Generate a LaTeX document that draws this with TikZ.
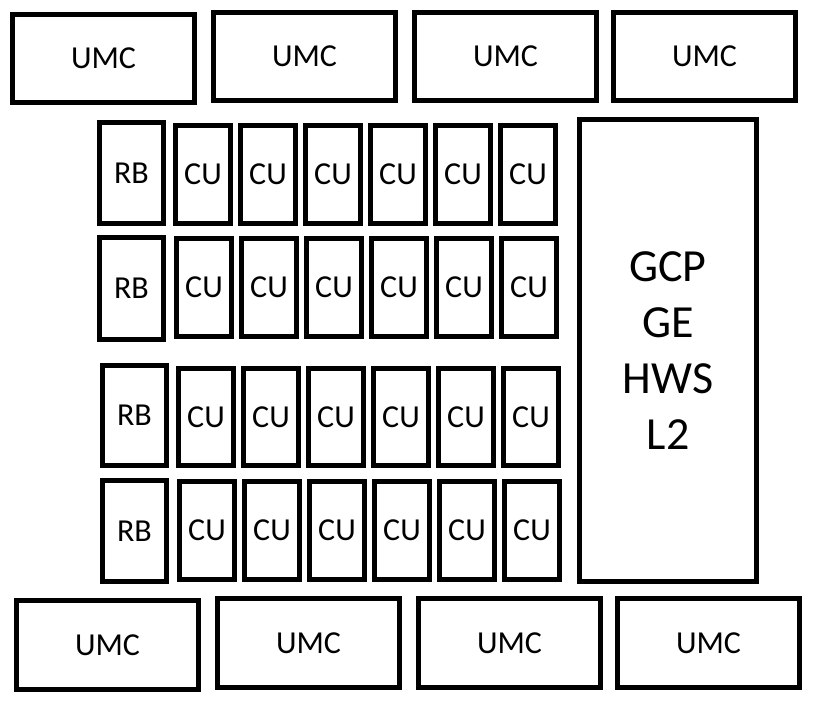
\documentclass[tikz,border=0pt]{standalone}
\usepackage{fontspec}
\setmainfont{Carlito}
\tikzset{
  blk/.style={draw, line width=5pt, inner sep=0pt, outer sep=0pt, align=center,
    font=\fontsize{32}{38}\selectfont},
  bigtxt/.style={font=\fontsize{46}{56}\selectfont}
}
\newcommand\myblk[7][]{\node[blk, #1, minimum width={#5-#3-5}, minimum height={#6-#4-5}] (#2) at ({(#3+#5)/2},{(#4+#6)/2}) {#7};}
\begin{document}
\begin{tikzpicture}[x=1pt, y=-1pt]
\useasboundingbox (0,0) rectangle (824,708);
% top UMCs
\myblk{ut1}{10}{12}{197}{105}{UMC}
\myblk{ut2}{211}{10}{398}{103}{UMC}
\myblk{ut3}{412}{10}{599}{103}{UMC}
\myblk{ut4}{611}{10}{798}{103}{UMC}
% bottom UMCs
\myblk{ub1}{14}{598}{201}{692}{UMC}
\myblk{ub2}{215}{596}{402}{690}{UMC}
\myblk{ub3}{416}{596}{603}{690}{UMC}
\myblk{ub4}{615}{596}{802}{690}{UMC}
% GCP block
\myblk[bigtxt]{gcp}{577}{117}{759}{584}{GCP\\GE\\HWS\\L2}
% RBs
\myblk{rb1}{97}{120}{166}{226}{RB}
\myblk{rb2}{97}{235}{166}{342}{RB}
\myblk{rb3}{100}{363}{169}{468}{RB}
\myblk{rb4}{100}{478}{169}{584}{RB}
% CUs
\foreach \r/\xo/\ya/\yb in {1/173/123/226, 2/174/236/339, 3/176/366/468, 4/177/479/582} {
  \foreach \c in {1,...,6} {
    \pgfmathsetmacro\xa{\xo+65*(\c-1)}
    \pgfmathsetmacro\xb{\xa+60}
    \myblk{cu\r\c}{\xa}{\ya}{\xb}{\yb}{CU}
  }
}
\end{tikzpicture}
\end{document}
